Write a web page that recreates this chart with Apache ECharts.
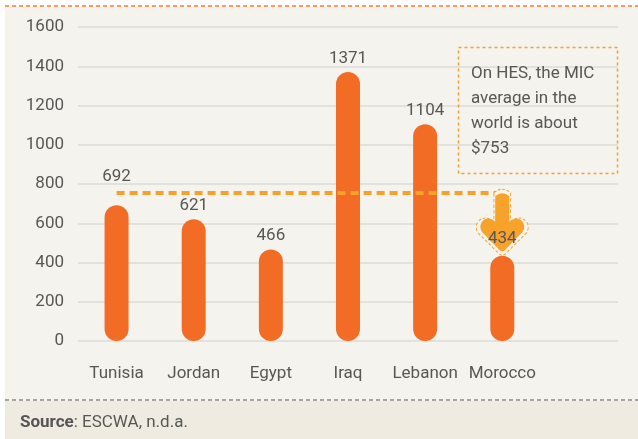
<!DOCTYPE html>
<html>
<head>
<meta charset="utf-8">
<script src="https://cdn.jsdelivr.net/npm/echarts@6/dist/echarts.min.js"></script>
<style>
  html, body { margin: 0; padding: 0; background: #fff; }
  #main { width: 638px; height: 439px; }
</style>
</head>
<body>
<div id="main"></div>
<script>
// MIC values per country (USD)
var countries = ['Tunisia', 'Jordan', 'Egypt', 'Iraq', 'Lebanon', 'Morocco', '']
var micValues = [692, 621, 466, 1371, 1104, 434, null]
var worldAverage = 753
var yTicks = [0, 200, 400, 600, 800, 1000, 1200, 1400, 1600]
var noteLines = ['On HES, the MIC', 'average in the', 'world is about', '$753']
var sourceText = 'ESCWA, n.d.a.'

var textColor = '#575754'
var font = 'Roboto'
var arrowPath = 'path://M15,4 Q22,-2 29,4 L29,28 Q36,23 41,27 Q46,32 42,38 L25,55 Q22,58 19,55 L2,38 Q-2,32 3,27 Q8,23 15,28 Z'

var myChart = echarts.init(document.getElementById('main'))

var barData = micValues.map(function (v, i) {
    var item = { value: v }
    if (i === 0) item.label = { distance: 20 }      // lifted over the dashed line
    if (i === 5) item.label = { show: false }       // shown on the arrow instead
    return item
})

var option = {
    animation: false,
    backgroundColor: '#fff',
    textStyle: { fontFamily: font },
    graphic: [
        { type: 'rect', z: -10, shape: { x: 5, y: 6, width: 633, height: 433 }, style: { fill: '#f4f3ee' } },
        { type: 'rect', z: -9, shape: { x: 5, y: 401, width: 633, height: 38 }, style: { fill: '#efebe1' } },
        { type: 'line', z: -8, shape: { x1: 5, y1: 6, x2: 638, y2: 6 },
          style: { stroke: '#f79a66', lineWidth: 2, lineDash: [4, 3] } },
        { type: 'line', z: -8, shape: { x1: 5, y1: 400, x2: 638, y2: 400 },
          style: { stroke: '#8a8a88', lineWidth: 1.5, lineDash: [4, 3] } },
        { type: 'rect', z: 10, shape: { x: 458.5, y: 47.5, width: 159, height: 126 },
          style: { fill: 'transparent', stroke: '#f7a02a', lineWidth: 1.5, lineDash: [3, 3] } },
        { type: 'text', z: 10, left: 471, top: 61,
          style: { text: noteLines.join('\n'), fill: textColor, font: '17px ' + font, lineHeight: 25 } },
        { type: 'text', z: 10, left: 20, top: 414,
          style: {
              text: '{b|Source}: ' + sourceText,
              fill: textColor, font: '17px ' + font,
              rich: { b: { fontWeight: 'bold', fontSize: 17, fontFamily: font, fill: '#555' } }
          } }
    ],
    grid: { left: 78, right: 20, top: 27, bottom: 98 },
    xAxis: {
        type: 'category',
        data: countries,
        axisLine: { show: false },
        axisTick: { show: false },
        axisLabel: { color: textColor, fontSize: 17, margin: 24, fontFamily: font, interval: 0 }
    },
    yAxis: {
        type: 'value',
        min: yTicks[0],
        max: yTicks[yTicks.length - 1],
        interval: 200,
        axisLine: { show: false },
        axisTick: { show: false },
        axisLabel: { color: textColor, fontSize: 17, margin: 14, fontFamily: font,
                     formatter: function (v) { return String(v) } },
        splitLine: { lineStyle: { color: '#dcdbd6', width: 1.5 } }
    },
    series: [{
        type: 'bar',
        data: barData,
        barWidth: 24,
        itemStyle: { color: '#f26c25', borderRadius: 12 },
        label: { show: true, position: 'top', distance: 5, color: textColor, fontSize: 17, fontFamily: font },
        markLine: {
            silent: true,
            symbol: 'none',
            label: { show: false },
            lineStyle: { color: '#f7a02a', width: 4, type: [8, 5] },
            data: [[{ coord: [0, worldAverage] }, { coord: [5, worldAverage] }]]
        },
        markPoint: {
            silent: true,
            data: [
                {   // dashed outline of the arrow
                    coord: [5, worldAverage],
                    symbol: arrowPath,
                    symbolSize: [52, 66],
                    symbolOffset: [0, 29],
                    itemStyle: { color: '#f4f3ee', borderColor: '#f7a02a', borderWidth: 1, borderType: [3, 2] },
                    label: { show: false }
                },
                {
                    coord: [5, worldAverage],
                    symbol: arrowPath,
                    symbolSize: [44, 58],
                    symbolOffset: [0, 29],
                    itemStyle: { color: '#f7a22b' },
                    label: {
                        show: true,
                        position: 'inside',
                        offset: [0, 17],
                        formatter: String(micValues[5]),
                        color: textColor, fontSize: 17, fontFamily: font
                    }
                }
            ]
        }
    }]
}
myChart.setOption(option)
</script>
</body>
</html>
